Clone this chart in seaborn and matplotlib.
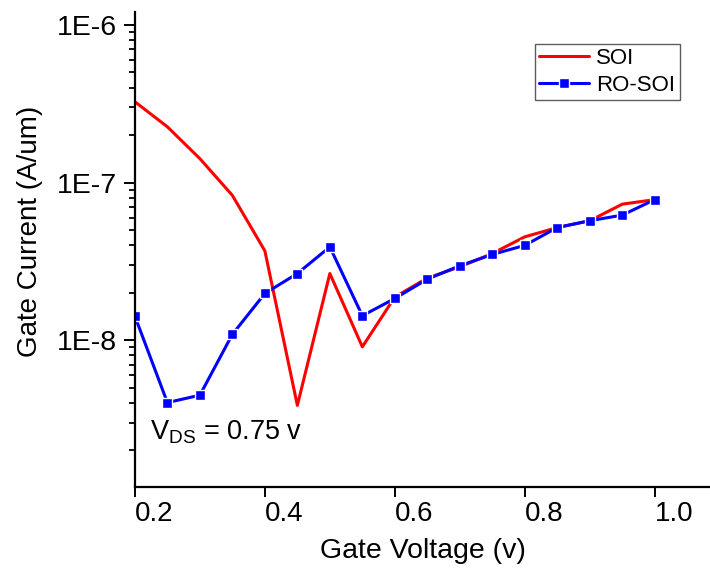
import matplotlib
matplotlib.use("Agg")
import matplotlib.pyplot as plt
import seaborn as sns
import pandas as pd

# gate voltage (v)
vg = [0.20, 0.25, 0.30, 0.35, 0.40, 0.45, 0.50, 0.55, 0.60,
      0.65, 0.70, 0.75, 0.80, 0.85, 0.90, 0.95, 1.00]

# gate current (A/um)
soi = [3.26e-7, 2.26e-7, 1.42e-7, 8.3e-8, 3.69e-8, 3.86e-9, 2.65e-8, 9.08e-9, 1.88e-8,
       2.48e-8, 2.92e-8, 3.55e-8, 4.53e-8, 5.19e-8, 5.73e-8, 7.3e-8, 7.8e-8]
ro_soi = [1.42e-8, 4.02e-9, 4.48e-9, 1.09e-8, 1.98e-8, 2.65e-8, 3.91e-8, 1.43e-8, 1.84e-8,
          2.44e-8, 2.97e-8, 3.5e-8, 4.0e-8, 5.19e-8, 5.73e-8, 6.22e-8, 7.8e-8]

xticks = [0.2, 0.4, 0.6, 0.8, 1.0]
yticks = [1e-8, 1e-7, 1e-6]
ytick_labels = ["1E-8", "1E-7", "1E-6"]

sns.set_style("ticks")
plt.rcParams["font.family"] = ["Liberation Sans", "DejaVu Sans"]
plt.rcParams["mathtext.fontset"] = "custom"
plt.rcParams["mathtext.rm"] = "Liberation Sans"
plt.rcParams["mathtext.it"] = "Liberation Sans"
plt.rcParams["text.color"] = "black"
plt.rcParams["axes.labelcolor"] = "black"
plt.rcParams["xtick.color"] = "black"
plt.rcParams["ytick.color"] = "black"

fig = plt.figure(figsize=(7.1, 5.71), dpi=100)
ax = fig.add_axes([0.190, 0.147, 0.81, 0.832])

df_soi = pd.DataFrame({"vg": vg, "ig": soi})
df_ro = pd.DataFrame({"vg": vg, "ig": ro_soi})

sns.lineplot(data=df_soi, x="vg", y="ig", ax=ax, color="#ff0000", lw=2.2, label="SOI")
sns.lineplot(data=df_ro, x="vg", y="ig", ax=ax, color="#0000ff", lw=2.2, marker="s",
             markersize=7.5, markeredgecolor="white", markeredgewidth=1.0,
             label="RO-SOI")

ax.set_yscale("log")
ax.set_xlim(0.2, 1.085)
ax.set_ylim(1.17e-9, 1.21e-6)
ax.set_xticks(xticks)
ax.set_xticklabels([f"{t:.1f}" for t in xticks], ha="left")
ax.set_yticks(yticks)
ax.set_yticklabels(ytick_labels)

ax.tick_params(axis="x", which="major", labelsize=20, length=7, width=1.4, pad=3)
ax.tick_params(axis="y", which="major", labelsize=20.5, length=8, width=1.4, pad=5)
ax.tick_params(axis="y", which="minor", length=4, width=1.3)
ax.tick_params(axis="x", which="minor", bottom=False)

for s in ["top", "right"]:
    ax.spines[s].set_visible(False)
for s in ["left", "bottom"]:
    ax.spines[s].set_linewidth(1.6)
    ax.spines[s].set_color("black")

ax.set_xlabel("Gate Voltage (v)", fontsize=20.5, labelpad=8)
ax.set_ylabel("Gate Current (A/um)", fontsize=20)
ax.yaxis.set_label_coords(-0.16, 0.539)

ax.text(0.223, 2.35e-9, r"V$_{\mathrm{DS}}$ = 0.75 v", fontsize=19.5, va="baseline", ha="left")

leg = ax.legend(loc="upper right", bbox_to_anchor=(0.947, 0.933), borderaxespad=0,
                fontsize=16, frameon=True, fancybox=False, handlelength=2.25,
                handletextpad=0.3, borderpad=0.2, labelspacing=0.25)
leg.get_frame().set_edgecolor("#333333")
leg.get_frame().set_linewidth(1.0)

fig.savefig("out.png", dpi=100)
